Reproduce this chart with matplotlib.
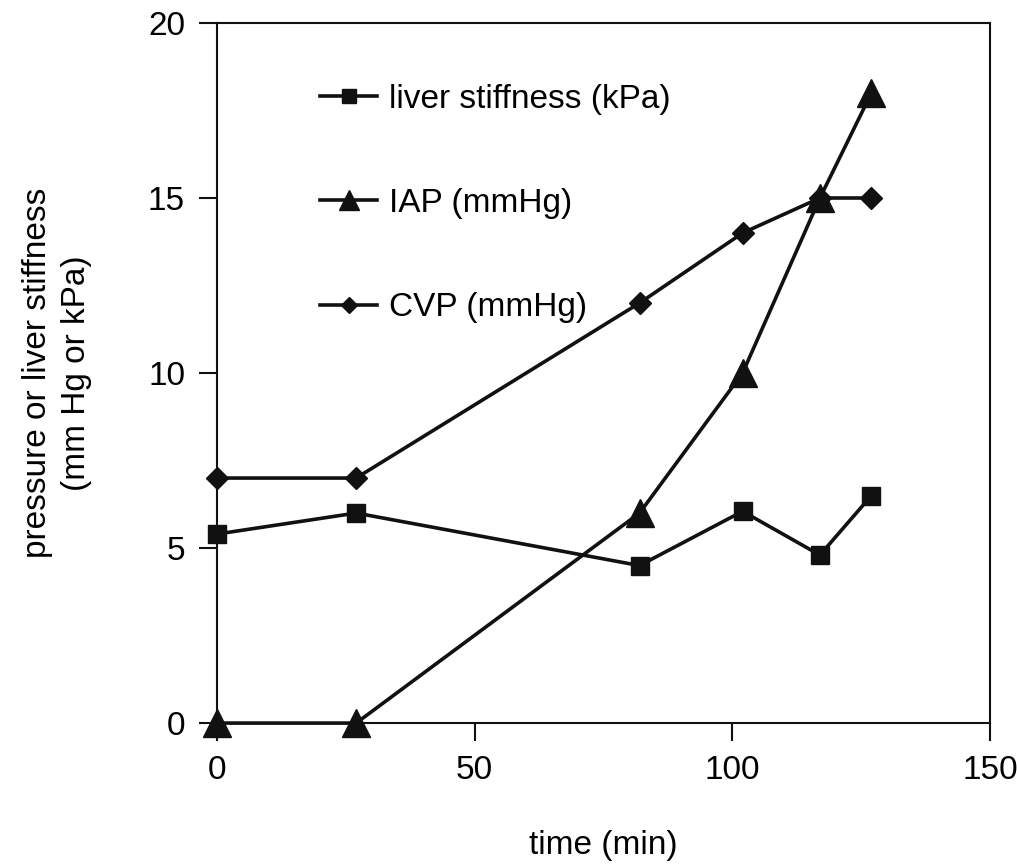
import matplotlib
matplotlib.use("Agg")
import matplotlib.pyplot as plt

# data
time_liver = [0, 27, 82, 102, 117, 127]
liver_stiffness = [5.4, 6.0, 4.5, 6.05, 4.8, 6.5]

time_iap = [0, 27, 82, 102, 117, 127]
iap = [0, 0, 6, 10, 15, 18]

time_cvp = [0, 27, 82, 102, 117, 127]
cvp = [7, 7, 12, 14, 15, 15]

x_ticks = [0, 50, 100, 150]
y_ticks = [0, 5, 10, 15, 20]

plt.rcParams['font.family'] = ['Liberation Sans', 'DejaVu Sans']
fs = 24

fig = plt.figure(figsize=(10.17, 8.67), dpi=100)
ax = fig.add_axes([0.2134, 0.166, 0.760, 0.8075])

col = "#111111"
ax.plot(time_liver, liver_stiffness, color=col, lw=2.6, marker="s", ms=13,
        label="liver stiffness (kPa)", clip_on=False, zorder=5)
ax.plot(time_iap, iap, color=col, lw=2.6, marker="^", ms=20,
        label="IAP (mmHg)", clip_on=False, zorder=5)
ax.plot(time_cvp, cvp, color=col, lw=2.6, marker="D", ms=11.5,
        label="CVP (mmHg)", clip_on=False, zorder=5)

ax.set_xlim(0, 150)
ax.set_ylim(0, 20)
ax.set_xticks(x_ticks)
ax.set_yticks(y_ticks)
ax.tick_params(direction="out", length=13, width=1.5, labelsize=fs, pad=10, color=col)

for s in ax.spines.values():
    s.set_linewidth(1.5)
    s.set_color(col)

ax.set_xlabel("time (min)", fontsize=fs, labelpad=32)
ax.set_ylabel("pressure or liver stiffness\n(mm Hg or kPa)", fontsize=fs,
              labelpad=40, linespacing=1.35)

leg = ax.legend(loc="upper left", bbox_to_anchor=(0.095, 0.956), frameon=False,
                fontsize=fs, handlelength=1.7, handletextpad=0.35,
                labelspacing=2.2, markerscale=0.75)

fig.savefig("out.png", dpi=100)
